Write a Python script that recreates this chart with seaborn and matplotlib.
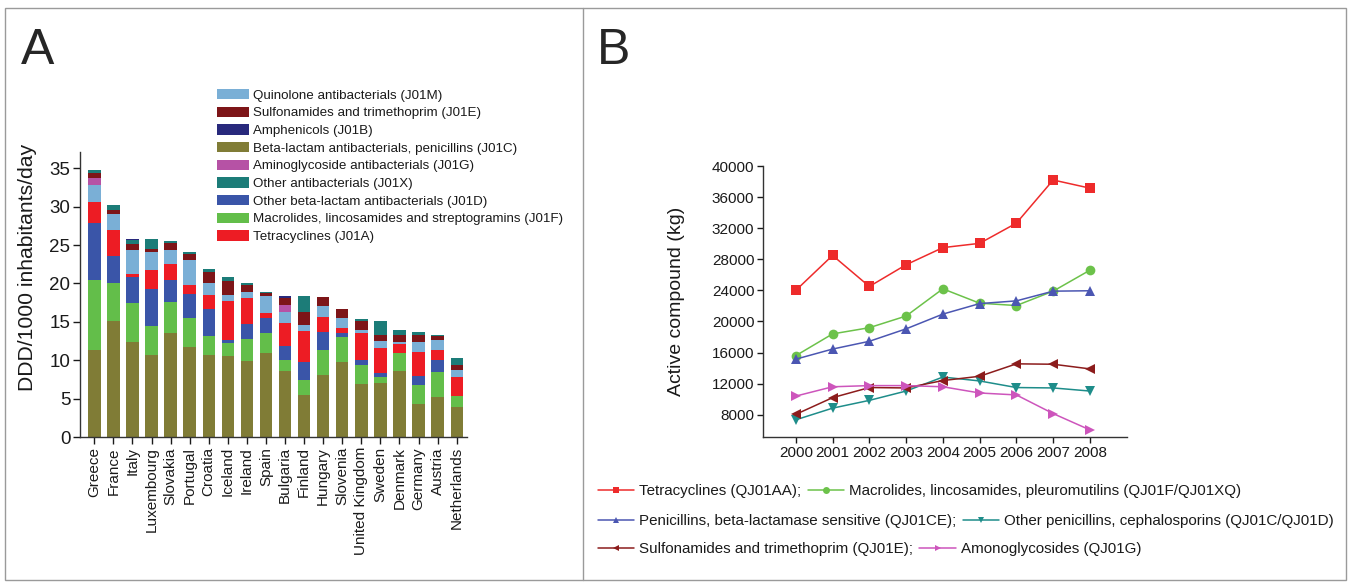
import numpy as np
import pandas as pd
import matplotlib
matplotlib.use("Agg")
import matplotlib.pyplot as plt
from matplotlib.patches import Patch, Rectangle
from matplotlib.lines import Line2D
import seaborn as sns

# ---------------- Panel A data ----------------
countries = ["Greece", "France", "Italy", "Luxembourg", "Slovakia", "Portugal", "Croatia",
             "Iceland", "Ireland", "Spain", "Bulgaria", "Finland", "Hungary", "Slovenia",
             "United Kingdom", "Sweden", "Denmark", "Germany", "Austria", "Netherlands"]

j01c_penicillins = [11.4, 15.1, 12.45, 10.7, 13.5, 11.75, 10.7, 10.6, 9.9, 10.9, 8.6, 5.5, 8.05, 9.85, 6.95, 7.05, 8.65, 4.35, 5.2, 3.95]
j01f_macrolides = [9.1, 4.9, 5.0, 3.8, 4.1, 3.8, 2.5, 1.7, 2.9, 2.6, 1.4, 1.95, 3.3, 3.15, 2.4, 0.8, 2.3, 2.4, 3.3, 1.4]
j01d_other_betalactam = [7.4, 3.55, 3.35, 4.8, 2.9, 3.1, 3.5, 0.4, 1.95, 2.0, 1.9, 2.3, 2.35, 0.6, 0.75, 0.5, 0.0, 1.25, 1.6, 0.0]
j01a_tetracyclines = [2.65, 3.35, 0.5, 2.4, 2.1, 1.15, 1.8, 5.05, 3.35, 0.65, 2.9, 4.05, 1.9, 0.65, 3.4, 3.2, 1.2, 3.1, 1.25, 2.45]
j01m_quinolones = [2.2, 2.15, 3.1, 2.45, 1.7, 3.2, 1.5, 0.7, 0.8, 2.25, 1.5, 0.85, 1.45, 1.25, 0.5, 1.0, 0.3, 1.25, 1.35, 0.9]
j01g_aminoglycosides = [1.0, 0, 0, 0, 0, 0, 0, 0, 0, 0, 0.85, 0, 0, 0, 0, 0, 0, 0, 0, 0]
j01e_sulfonamides = [0.56, 0.5, 0.7, 0.4, 0.95, 0.8, 1.55, 1.9, 0.85, 0.35, 1.0, 1.65, 1.15, 1.15, 1.1, 0.7, 0.8, 1.0, 0.5, 0.65]
j01x_other = [0.4, 0.6, 0.6, 1.2, 0.3, 0.35, 0.3, 0.5, 0.25, 0.2, 0, 2.05, 0.1, 0, 0.25, 1.9, 0.7, 0.3, 0.1, 0.9]
j01b_amphenicols = [0, 0, 0.12, 0, 0, 0, 0, 0, 0, 0, 0.25, 0, 0, 0, 0, 0, 0, 0, 0, 0]

# stacking order, bottom -> top
stack_layers = [
    ("Beta-lactam antibacterials, penicillins (J01C)", j01c_penicillins, "#807C36"),
    ("Macrolides, lincosamides and streptogramins (J01F)", j01f_macrolides, "#63BE4A"),
    ("Other beta-lactam antibacterials (J01D)", j01d_other_betalactam, "#3A55A8"),
    ("Tetracyclines (J01A)", j01a_tetracyclines, "#ED1C24"),
    ("Quinolone antibacterials (J01M)", j01m_quinolones, "#7AAFD6"),
    ("Aminoglycoside antibacterials (J01G)", j01g_aminoglycosides, "#B652A5"),
    ("Sulfonamides and trimethoprim (J01E)", j01e_sulfonamides, "#7D1518"),
    ("Other antibacterials (J01X)", j01x_other, "#1C7C78"),
    ("Amphenicols (J01B)", j01b_amphenicols, "#28297C"),
]
legend_order_A = [
    "Quinolone antibacterials (J01M)",
    "Sulfonamides and trimethoprim (J01E)",
    "Amphenicols (J01B)",
    "Beta-lactam antibacterials, penicillins (J01C)",
    "Aminoglycoside antibacterials (J01G)",
    "Other antibacterials (J01X)",
    "Other beta-lactam antibacterials (J01D)",
    "Macrolides, lincosamides and streptogramins (J01F)",
    "Tetracyclines (J01A)",
]

# ---------------- Panel B data ----------------
years = [2000, 2001, 2002, 2003, 2004, 2005, 2006, 2007, 2008]
tetracyclines_kg = [24000, 28500, 24500, 27300, 29500, 30050, 32650, 38200, 37150]
macrolides_kg = [15600, 18400, 19200, 20700, 24200, 22350, 22050, 23900, 26600]
penicillins_kg = [15150, 16450, 17450, 19050, 20950, 22300, 22650, 23900, 23950]
other_penicillins_kg = [7350, 8850, 9850, 11050, 12850, 12350, 11500, 11450, 11050]
sulfonamides_kg = [8050, 10200, 11500, 11450, 12400, 12950, 14550, 14500, 13900]
aminoglycosides_kg = [10400, 11600, 11750, 11750, 11600, 10800, 10550, 8150, 6050]

series_B = [
    ("Tetracyclines (QJ01AA);", tetracyclines_kg, "#EE2B2B", "s"),
    ("Macrolides, lincosamides, pleuromutilins (QJ01F/QJ01XQ)", macrolides_kg, "#6CC24A", "o"),
    ("Penicillins, beta-lactamase sensitive (QJ01CE);", penicillins_kg, "#4B56B2", "^"),
    ("Other penicillins, cephalosporins (QJ01C/QJ01D)", other_penicillins_kg, "#1E8D8A", "v"),
    ("Sulfonamides and trimethoprim (QJ01E);", sulfonamides_kg, "#8C1C1C", "<"),
    ("Amonoglycosides (QJ01G)", aminoglycosides_kg, "#CD55BC", ">"),
]

# ---------------- Figure ----------------
sns.set_theme(style="white")
plt.rcParams["font.family"] = ["Liberation Sans", "DejaVu Sans"]

W, H = 1351, 582
fig = plt.figure(figsize=(W / 100, H / 100), dpi=100)

def fx(px):
    return px / W

def fy(py):
    return 1 - py / H

# frame
fig.patches.append(Rectangle((fx(5), fy(580)), fx(1346) - fx(5), fy(8) - fy(580),
                             transform=fig.transFigure, fill=False, edgecolor="#9a9a9a", lw=1.0))
fig.add_artist(Line2D([fx(583), fx(583)], [fy(580), fy(8)], transform=fig.transFigure,
                      color="#9a9a9a", lw=1.0))

fig.text(fx(21), fy(64), "A", fontsize=36, ha="left", va="baseline")
fig.text(fx(597), fy(64), "B", fontsize=36, ha="left", va="baseline")

# ---------------- Panel A ----------------
axA = fig.add_axes([fx(80), fy(437.3), fx(467) - fx(80), fy(152) - fy(437.3)])
cum = np.zeros(len(countries))
cums = []
for name, vals, color in stack_layers:
    cum = cum + np.array(vals, dtype=float)
    cums.append((name, cum.copy(), color))
for name, c, color in reversed(cums):
    sns.barplot(x=countries, y=c, color=color, ax=axA, width=0.65, errorbar=None,
                order=countries, saturation=1, linewidth=0)

axA.set_xlim(-0.75, len(countries) - 0.46)
axA.set_ylim(0, 37.1)
axA.set_yticks([0, 5, 10, 15, 20, 25, 30, 35])
axA.tick_params(axis="y", labelsize=13.5, length=5, width=1, direction="out", left=True, pad=2, colors="#1a1a1a")
axA.tick_params(axis="x", labelsize=11, length=5, width=1, direction="out", bottom=True, pad=2, colors="#1a1a1a")
axA.set_xticks(range(len(countries)))
axA.set_xticklabels(countries, rotation=90)
for s in ["top", "right"]:
    axA.spines[s].set_visible(False)
for s in ["left", "bottom"]:
    axA.spines[s].set_color("#333333")
    axA.spines[s].set_linewidth(1.0)
axA.set_ylabel("DDD/1000 inhabitants/day", fontsize=15.2, color="#1a1a1a")
axA.yaxis.set_label_coords(-0.112, 0.595)
axA.set_xlabel("")

color_map = {name: color for name, _, color in stack_layers}
handlesA = [Patch(facecolor=color_map[n], edgecolor="none", label=n) for n in legend_order_A]
fig.legend(handles=handlesA, loc="upper left", bbox_to_anchor=(fx(217), fy(89)),
           frameon=False, fontsize=9.6, handlelength=2.4, handleheight=0.8,
           handletextpad=0.28, labelspacing=0.37, borderpad=0, borderaxespad=0,
           labelcolor="#1a1a1a")

# ---------------- Panel B ----------------
axB = fig.add_axes([fx(762.7), fy(437.3), fx(1126.7) - fx(762.7), fy(166) - fy(437.3)])
rows = []
for name, vals, color, mk in series_B:
    for yr, v in zip(years, vals):
        rows.append({"year": yr, "kg": v, "series": name})
dfB = pd.DataFrame(rows)
names_B = [s[0] for s in series_B]
sns.lineplot(data=dfB, x="year", y="kg", hue="series", style="series",
             hue_order=names_B, style_order=names_B,
             palette={s[0]: s[2] for s in series_B},
             markers={s[0]: s[3] for s in series_B}, dashes=False,
             markersize=7, markeredgewidth=0, linewidth=1.1, ax=axB, legend=False)

axB.set_xlim(1999.1, 2009.0)
axB.set_ylim(5100, 40000)
axB.set_xticks(years)
axB.set_yticks(list(range(8000, 40001, 4000)))
axB.tick_params(axis="both", labelsize=11, length=4, width=1, direction="out",
                left=True, bottom=True, pad=2, colors="#1a1a1a")
for s in ["top", "right"]:
    axB.spines[s].set_visible(False)
for s in ["left", "bottom"]:
    axB.spines[s].set_color("#333333")
    axB.spines[s].set_linewidth(1.0)
axB.set_xlabel("")
axB.set_ylabel("Active compound (kg)", fontsize=14, color="#1a1a1a")
axB.yaxis.set_label_coords(-0.213, 0.5)

line_handles = {}
for name, vals, color, mk in series_B:
    line_handles[name] = Line2D([], [], color=color, marker=mk, markersize=5,
                                markeredgewidth=0, lw=1.1, label=name)

row_y = [491, 521, 549]
for i, ry in enumerate(row_y):
    pair = names_B[2 * i:2 * i + 2]
    fig.legend(handles=[line_handles[n] for n in pair], loc="center left",
               bbox_to_anchor=(fx(598), fy(ry)), ncol=2, frameon=False, fontsize=10.9,
               handlelength=2.4, handletextpad=0.33, columnspacing=0.4, numpoints=1,
               borderpad=0, borderaxespad=0, labelcolor="#1a1a1a")

fig.savefig("out.png", dpi=100)
